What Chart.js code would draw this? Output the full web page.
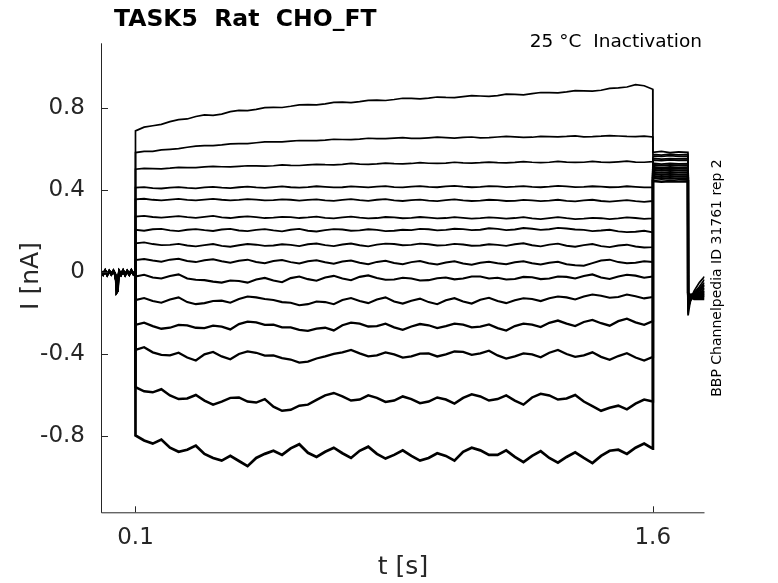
<!DOCTYPE html>
<html>
<head>
<meta charset="utf-8">
<script src="https://cdn.jsdelivr.net/npm/chart.js@4.4.1/dist/chart.umd.min.js"></script>
<style>
  html, body { margin: 0; padding: 0; background: #ffffff; }
  #wrap { position: relative; width: 778px; height: 583px; }
  canvas { display: block; }
</style>
</head>
<body>
<div id="wrap"><canvas id="c" width="778" height="583"></canvas></div>
<script>
// ---------------- DATA ----------------
const chartTitle = "TASK5  Rat  CHO_FT";
const chartSubtitle = "25 \u00B0C  Inactivation";
const sideNote = "BBP Channelpedia ID 31761 rep 2";
const xLabel = "t [s]";
const yLabel = "I [nA]";

const xTicks = [0.1, 1.6];
const xTickLabels = ["0.1", "1.6"];
const yTicks = [-0.8, -0.4, 0, 0.4, 0.8];
const yTickLabels = ["-0.8", "-0.4", "0", "0.4", "0.8"];

// holding period (shared by all sweeps)
const tBase = [0, 0.006, 0.012, 0.018, 0.024, 0.03, 0.036, 0.041, 0.044, 0.046, 0.048, 0.05, 0.053, 0.058, 0.064, 0.07, 0.076, 0.082, 0.088, 0.094, 0.0995];
const iBase = [0.005, -0.01, 0.008, -0.012, 0.006, -0.009, 0.007, -0.01, -0.04, -0.095, -0.09, -0.03, 0.004, -0.011, 0.008, -0.012, 0.006, -0.01, 0.009, -0.008, 0.003];

// conditioning step, 0.1 .. 1.6 s every 0.025 s
const tStep = [0.1, 0.125, 0.15, 0.175, 0.2, 0.225, 0.25, 0.275, 0.3, 0.325,
  0.35, 0.375, 0.4, 0.425, 0.45, 0.475, 0.5, 0.525, 0.55, 0.575,
  0.6, 0.625, 0.65, 0.675, 0.7, 0.725, 0.75, 0.775, 0.8, 0.825,
  0.85, 0.875, 0.9, 0.925, 0.95, 0.975, 1.0, 1.025, 1.05, 1.075,
  1.1, 1.125, 1.15, 1.175, 1.2, 1.225, 1.25, 1.275, 1.3, 1.325,
  1.35, 1.375, 1.4, 1.425, 1.45, 1.475, 1.5, 1.525, 1.55, 1.575, 1.6];

const step01 = [0.69, 0.708, 0.715, 0.722, 0.735, 0.745, 0.748, 0.76, 0.768, 0.766,
  0.772, 0.784, 0.79, 0.789, 0.795, 0.803, 0.805, 0.804, 0.81, 0.817,
  0.818, 0.817, 0.822, 0.829, 0.83, 0.828, 0.833, 0.839, 0.84, 0.838,
  0.843, 0.849, 0.848, 0.846, 0.85, 0.855, 0.853, 0.852, 0.857, 0.862,
  0.86, 0.858, 0.862, 0.869, 0.868, 0.866, 0.872, 0.877, 0.876, 0.875,
  0.88, 0.886, 0.885, 0.884, 0.888, 0.897, 0.9, 0.904, 0.915, 0.91, 0.893];
const step02 = [0.584, 0.59, 0.59, 0.597, 0.6, 0.603, 0.61, 0.616, 0.618, 0.618,
  0.622, 0.627, 0.628, 0.628, 0.632, 0.636, 0.636, 0.636, 0.64, 0.643,
  0.642, 0.642, 0.645, 0.649, 0.648, 0.647, 0.65, 0.654, 0.652, 0.652,
  0.655, 0.657, 0.653, 0.653, 0.656, 0.659, 0.657, 0.655, 0.658, 0.66,
  0.656, 0.657, 0.66, 0.663, 0.661, 0.658, 0.659, 0.663, 0.662, 0.661,
  0.663, 0.666, 0.661, 0.662, 0.664, 0.667, 0.665, 0.663, 0.662, 0.664, 0.66];
const step03 = [0.503, 0.507, 0.506, 0.505, 0.508, 0.512, 0.511, 0.511, 0.514, 0.517,
  0.515, 0.514, 0.517, 0.52, 0.519, 0.518, 0.52, 0.524, 0.522, 0.521,
  0.524, 0.527, 0.525, 0.524, 0.527, 0.531, 0.528, 0.527, 0.529, 0.533,
  0.53, 0.529, 0.531, 0.535, 0.532, 0.531, 0.533, 0.537, 0.534, 0.533,
  0.535, 0.538, 0.535, 0.534, 0.536, 0.54, 0.537, 0.535, 0.537, 0.541,
  0.538, 0.536, 0.537, 0.541, 0.538, 0.536, 0.539, 0.542, 0.538, 0.537, 0.54];
const step04 = [0.413, 0.416, 0.411, 0.409, 0.413, 0.416, 0.412, 0.41, 0.414, 0.417,
  0.413, 0.411, 0.415, 0.418, 0.414, 0.412, 0.416, 0.419, 0.415, 0.413,
  0.416, 0.42, 0.417, 0.414, 0.415, 0.419, 0.417, 0.414, 0.418, 0.421,
  0.416, 0.414, 0.418, 0.421, 0.417, 0.415, 0.419, 0.422, 0.418, 0.415,
  0.417, 0.421, 0.419, 0.416, 0.418, 0.421, 0.417, 0.415, 0.418, 0.422,
  0.419, 0.416, 0.417, 0.42, 0.418, 0.415, 0.416, 0.42, 0.417, 0.414, 0.415];
const step05 = [0.356, 0.359, 0.354, 0.351, 0.355, 0.358, 0.353, 0.351, 0.355, 0.358,
  0.354, 0.351, 0.353, 0.357, 0.355, 0.351, 0.352, 0.356, 0.354, 0.35,
  0.353, 0.356, 0.351, 0.349, 0.353, 0.357, 0.352, 0.349, 0.354, 0.357,
  0.351, 0.348, 0.352, 0.355, 0.35, 0.347, 0.352, 0.356, 0.351, 0.348,
  0.35, 0.354, 0.352, 0.348, 0.349, 0.353, 0.351, 0.347, 0.35, 0.354,
  0.349, 0.346, 0.351, 0.354, 0.348, 0.345, 0.349, 0.352, 0.347, 0.344, 0.348];
const step06 = [0.272, 0.275, 0.27, 0.267, 0.271, 0.274, 0.269, 0.266, 0.271, 0.275,
  0.268, 0.265, 0.27, 0.273, 0.269, 0.265, 0.267, 0.271, 0.269, 0.265,
  0.268, 0.272, 0.266, 0.263, 0.268, 0.272, 0.267, 0.263, 0.265, 0.27,
  0.268, 0.264, 0.266, 0.27, 0.267, 0.263, 0.265, 0.269, 0.266, 0.262,
  0.264, 0.268, 0.266, 0.262, 0.265, 0.269, 0.263, 0.26, 0.265, 0.269,
  0.264, 0.26, 0.262, 0.266, 0.264, 0.26, 0.263, 0.268, 0.265, 0.261, 0.263];
const step07 = [0.207, 0.203, 0.21, 0.212, 0.205, 0.201, 0.208, 0.211, 0.206, 0.202,
  0.209, 0.212, 0.204, 0.201, 0.207, 0.211, 0.205, 0.2, 0.208, 0.212,
  0.203, 0.199, 0.206, 0.211, 0.209, 0.203, 0.205, 0.21, 0.207, 0.201,
  0.203, 0.208, 0.206, 0.212, 0.21, 0.205, 0.207, 0.213, 0.211, 0.206,
  0.208, 0.215, 0.212, 0.206, 0.209, 0.216, 0.213, 0.207, 0.21, 0.217,
  0.214, 0.209, 0.207, 0.201, 0.204, 0.208, 0.2, 0.196, 0.198, 0.203, 0.195];
const step08 = [0.142, 0.146, 0.138, 0.133, 0.134, 0.139, 0.131, 0.127, 0.133, 0.138,
  0.129, 0.125, 0.132, 0.138, 0.135, 0.129, 0.131, 0.137, 0.134, 0.128,
  0.137, 0.141, 0.133, 0.128, 0.136, 0.141, 0.132, 0.127, 0.135, 0.14,
  0.138, 0.132, 0.134, 0.14, 0.137, 0.131, 0.133, 0.139, 0.136, 0.13,
  0.131, 0.137, 0.134, 0.129, 0.137, 0.142, 0.132, 0.127, 0.135, 0.14,
  0.13, 0.125, 0.133, 0.138, 0.128, 0.123, 0.131, 0.135, 0.126, 0.121, 0.123];
const step09 = [0.06, 0.065, 0.058, 0.052, 0.062, 0.066, 0.055, 0.05, 0.059, 0.064,
  0.054, 0.047, 0.057, 0.062, 0.051, 0.045, 0.055, 0.06, 0.05, 0.043,
  0.054, 0.059, 0.049, 0.042, 0.053, 0.058, 0.047, 0.04, 0.051, 0.057,
  0.046, 0.04, 0.05, 0.055, 0.044, 0.038, 0.048, 0.054, 0.043, 0.037,
  0.047, 0.052, 0.045, 0.04, 0.049, 0.054, 0.044, 0.038, 0.047, 0.052,
  0.04, 0.035, 0.032, 0.045, 0.058, 0.062, 0.05, 0.044, 0.047, 0.054, 0.05];
const step10 = [-0.02, -0.012, -0.025, -0.03, -0.018, -0.01, -0.03, -0.036, -0.038, -0.045,
  -0.05, -0.04, -0.042, -0.05, -0.035, -0.027, -0.04, -0.048, -0.028, -0.02,
  -0.033, -0.041, -0.025, -0.017, -0.03, -0.038, -0.022, -0.015, -0.027, -0.036,
  -0.035, -0.026, -0.03, -0.04, -0.038, -0.029, -0.025, -0.034, -0.03, -0.02,
  -0.02, -0.03, -0.026, -0.035, -0.032, -0.022, -0.024, -0.033, -0.03, -0.02,
  -0.022, -0.03, -0.018, -0.01, -0.025, -0.032, -0.02, -0.012, -0.016, -0.026, -0.02];
const step11 = [-0.135, -0.125, -0.14, -0.148, -0.132, -0.122, -0.145, -0.155, -0.15, -0.14,
  -0.138, -0.148, -0.13, -0.118, -0.122, -0.13, -0.135, -0.145, -0.148, -0.16,
  -0.155, -0.142, -0.145, -0.155, -0.135, -0.125, -0.14, -0.15, -0.132, -0.122,
  -0.142, -0.152, -0.138, -0.128, -0.145, -0.155, -0.136, -0.126, -0.142, -0.152,
  -0.134, -0.124, -0.14, -0.15, -0.136, -0.126, -0.13, -0.14, -0.126, -0.118,
  -0.122, -0.132, -0.118, -0.108, -0.114, -0.124, -0.12, -0.108, -0.116, -0.127, -0.12];
const step12 = [-0.256, -0.245, -0.262, -0.275, -0.27, -0.256, -0.258, -0.27, -0.272, -0.26,
  -0.265, -0.278, -0.252, -0.24, -0.244, -0.256, -0.255, -0.268, -0.268, -0.28,
  -0.285, -0.274, -0.27, -0.283, -0.258, -0.245, -0.25, -0.264, -0.262, -0.25,
  -0.268, -0.28, -0.264, -0.252, -0.258, -0.272, -0.262, -0.25, -0.255, -0.268,
  -0.265, -0.254, -0.272, -0.284, -0.262, -0.25, -0.255, -0.267, -0.246, -0.235,
  -0.25, -0.262, -0.242, -0.232, -0.248, -0.26, -0.238, -0.226, -0.244, -0.256, -0.238];
const step13 = [-0.378, -0.365, -0.39, -0.402, -0.405, -0.392, -0.415, -0.43, -0.4, -0.388,
  -0.41, -0.424, -0.398, -0.385, -0.392, -0.406, -0.405, -0.418, -0.425, -0.44,
  -0.435, -0.42, -0.41, -0.398, -0.39, -0.378, -0.395, -0.41, -0.405, -0.39,
  -0.4, -0.416, -0.41, -0.396, -0.395, -0.41, -0.4, -0.386, -0.388, -0.402,
  -0.395, -0.382, -0.405, -0.42, -0.41, -0.395, -0.4, -0.414, -0.392, -0.378,
  -0.398, -0.412, -0.405, -0.39, -0.412, -0.426, -0.408, -0.394, -0.415, -0.43, -0.412];
const step14 = [-0.56, -0.58, -0.585, -0.57, -0.6, -0.618, -0.615, -0.598, -0.625, -0.645,
  -0.63, -0.612, -0.61, -0.63, -0.635, -0.618, -0.655, -0.675, -0.67, -0.65,
  -0.645, -0.622, -0.6, -0.588, -0.605, -0.625, -0.62, -0.6, -0.612, -0.632,
  -0.625, -0.605, -0.618, -0.638, -0.63, -0.61, -0.62, -0.64, -0.612, -0.595,
  -0.605, -0.625, -0.618, -0.6, -0.625, -0.645, -0.61, -0.592, -0.6, -0.62,
  -0.615, -0.598, -0.63, -0.652, -0.675, -0.66, -0.65, -0.668, -0.64, -0.62, -0.63];
const step15 = [-0.795, -0.82, -0.835, -0.815, -0.855, -0.875, -0.865, -0.845, -0.885, -0.905,
  -0.918, -0.895, -0.92, -0.945, -0.905, -0.885, -0.87, -0.89, -0.858, -0.838,
  -0.88, -0.9, -0.875, -0.855, -0.882, -0.905, -0.87, -0.85, -0.885, -0.908,
  -0.89, -0.868, -0.895, -0.918, -0.905, -0.882, -0.895, -0.918, -0.875, -0.855,
  -0.868, -0.89, -0.89, -0.868, -0.9, -0.925, -0.895, -0.872, -0.905, -0.928,
  -0.9, -0.878, -0.905, -0.93, -0.895, -0.87, -0.865, -0.885, -0.855, -0.835, -0.86];

// test pulse, 1.6 .. 1.702 s
const tTail = [1.6005, 1.625, 1.65, 1.675, 1.702];
const tail01 = [0.585, 0.59, 0.584, 0.588, 0.585];
const tail02 = [0.575, 0.572, 0.577, 0.573, 0.575];
const tail03 = [0.568, 0.565, 0.569, 0.566, 0.567];
const tail04 = [0.556, 0.552, 0.555, 0.553, 0.554];
const tail05 = [0.548, 0.545, 0.549, 0.546, 0.547];
const tail06 = [0.532, 0.528, 0.531, 0.529, 0.53];
const tail07 = [0.525, 0.521, 0.524, 0.522, 0.523];
const tail08 = [0.515, 0.511, 0.514, 0.512, 0.513];
const tail09 = [0.508, 0.504, 0.507, 0.505, 0.506];
const tail10 = [0.5, 0.496, 0.499, 0.497, 0.498];
const tail11 = [0.49, 0.486, 0.489, 0.487, 0.488];
const tail12 = [0.48, 0.476, 0.479, 0.477, 0.478];
const tail13 = [0.47, 0.466, 0.469, 0.467, 0.468];
const tail14 = [0.46, 0.456, 0.459, 0.457, 0.458];
const tail15 = [0.446, 0.442, 0.445, 0.443, 0.444];

// after the test pulse, 1.702 .. 1.75 s
const tPost = [1.7025, 1.707, 1.712, 1.72, 1.735, 1.75];
const post01 = [-0.21, -0.16, -0.12, -0.09, -0.05, -0.02];
const post02 = [-0.18, -0.15, -0.12, -0.1, -0.07, -0.035];
const post03 = [-0.17, -0.14, -0.13, -0.1, -0.08, -0.05];
const post04 = [-0.16, -0.15, -0.12, -0.11, -0.08, -0.06];
const post05 = [-0.16, -0.13, -0.12, -0.1, -0.09, -0.065];
const post06 = [-0.15, -0.14, -0.12, -0.11, -0.09, -0.075];
const post07 = [-0.15, -0.13, -0.13, -0.1, -0.1, -0.08];
const post08 = [-0.14, -0.13, -0.12, -0.11, -0.1, -0.09];
const post09 = [-0.14, -0.12, -0.13, -0.11, -0.1, -0.095];
const post10 = [-0.13, -0.13, -0.11, -0.12, -0.1, -0.1];
const post11 = [-0.13, -0.12, -0.12, -0.1, -0.11, -0.105];
const post12 = [-0.12, -0.13, -0.11, -0.11, -0.11, -0.11];
const post13 = [-0.12, -0.11, -0.12, -0.11, -0.12, -0.115];
const post14 = [-0.11, -0.12, -0.11, -0.12, -0.12, -0.12];
const post15 = [-0.1, -0.11, -0.12, -0.13, -0.13, -0.13];

const stepSweeps = [step01, step02, step03, step04, step05, step06, step07, step08, step09, step10, step11, step12, step13, step14, step15];
const tailSweeps = [tail01, tail02, tail03, tail04, tail05, tail06, tail07, tail08, tail09, tail10, tail11, tail12, tail13, tail14, tail15];
const postSweeps = [post01, post02, post03, post04, post05, post06, post07, post08, post09, post10, post11, post12, post13, post14, post15];

// ---------------- STYLE ----------------
const FONT = "'DejaVu Sans', 'Liberation Sans', sans-serif";
const AXIS_COLOR = "#262626";
const lineWidths = [1.7, 1.7, 1.7, 1.8, 1.8, 1.8, 1.9, 1.9, 2.0, 2.1, 2.1, 2.3, 2.3, 2.5, 2.7];

function pts(ts, vs) { return ts.map((t, i) => ({ x: t, y: vs[i] })); }

const datasets = stepSweeps.map((s, k) => ({
  data: [].concat(pts(tBase, iBase), pts(tStep, s), pts(tTail, tailSweeps[k]), pts(tPost, postSweeps[k])),
  borderColor: "#000000",
  borderWidth: lineWidths[k],
  borderJoinStyle: "miter",
  pointRadius: 0,
  tension: 0,
  fill: false
}));

const decorPlugin = {
  id: "decor",
  afterDraw(chart) {
    const ctx = chart.ctx;
    const a = chart.chartArea;
    const xs = chart.scales.x, ys = chart.scales.y;
    ctx.save();
    // axes lines
    ctx.strokeStyle = AXIS_COLOR;
    ctx.lineWidth = 1;
    ctx.beginPath();
    ctx.moveTo(a.left + 0.5, a.top);
    ctx.lineTo(a.left + 0.5, a.bottom + 0.5);
    ctx.lineTo(a.right, a.bottom + 0.5);
    ctx.stroke();
    // inward ticks
    ctx.beginPath();
    yTicks.forEach(v => {
      const y = Math.round(ys.getPixelForValue(v)) + 0.5;
      ctx.moveTo(a.left, y); ctx.lineTo(a.left + 7, y);
    });
    xTicks.forEach(v => {
      const x = Math.round(xs.getPixelForValue(v)) + 0.5;
      ctx.moveTo(x, a.bottom); ctx.lineTo(x, a.bottom - 6);
    });
    ctx.stroke();

    // title
    ctx.fillStyle = "#000000";
    ctx.font = "bold 23.5px " + FONT;
    ctx.textAlign = "left";
    ctx.textBaseline = "alphabetic";
    ctx.fillText(chartTitle, 114, 26);
    // subtitle
    ctx.font = "18.5px " + FONT;
    ctx.textAlign = "right";
    ctx.fillText(chartSubtitle, 702, 47);
    // axis labels
    ctx.fillStyle = AXIS_COLOR;
    ctx.font = "25px " + FONT;
    ctx.textAlign = "center";
    ctx.textBaseline = "middle";
    ctx.fillText(xLabel, 403, 567);
    ctx.save();
    ctx.translate(31, 276);
    ctx.rotate(-Math.PI / 2);
    ctx.fillText(yLabel, 0, 0);
    ctx.restore();
    // side note
    ctx.fillStyle = "#000000";
    ctx.font = "14px " + FONT;
    ctx.save();
    ctx.translate(717, 278);
    ctx.rotate(-Math.PI / 2);
    ctx.fillText(sideNote, 0, 0);
    ctx.restore();
    ctx.restore();
  }
};

new Chart(document.getElementById("c"), {
  type: "line",
  data: { datasets },
  plugins: [decorPlugin],
  options: {
    responsive: false,
    devicePixelRatio: 1,
    animation: false,
    events: [],
    layout: { padding: { left: 0, right: 73.5, top: 43.3, bottom: 0 } },
    plugins: { legend: { display: false }, tooltip: { enabled: false }, title: { display: false } },
    scales: {
      x: {
        type: "linear",
        min: 0,
        max: 1.75,
        afterBuildTicks: s => { s.ticks = xTicks.map(v => ({ value: v })); },
        afterFit: s => { s.height = 583 - 512.3; },
        grid: { display: false, drawTicks: false },
        border: { display: false },
        ticks: {
          autoSkip: false,
          maxRotation: 0,
          padding: 12,
          color: AXIS_COLOR,
          font: { family: FONT, size: 23 },
          callback: (v) => xTickLabels[xTicks.indexOf(v)] ?? ""
        }
      },
      y: {
        type: "linear",
        min: -1.17,
        max: 1.117,
        afterBuildTicks: s => { s.ticks = yTicks.map(v => ({ value: v })); },
        afterFit: s => { s.width = 101; },
        grid: { display: false, drawTicks: false },
        border: { display: false },
        ticks: {
          autoSkip: false,
          padding: 16,
          color: AXIS_COLOR,
          font: { family: FONT, size: 23 },
          callback: (v) => yTickLabels[yTicks.indexOf(v)] ?? ""
        }
      }
    }
  }
});
</script>
</body>
</html>
